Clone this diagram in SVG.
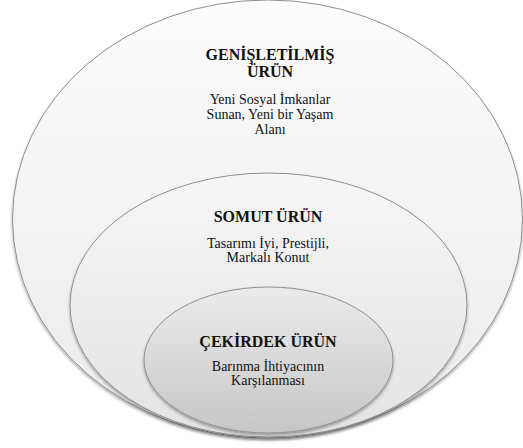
<svg xmlns="http://www.w3.org/2000/svg" width="523" height="448" viewBox="0 0 523 448">
<defs>
<linearGradient id="gOuter" x1="0" y1="0" x2="0" y2="1">
<stop offset="0" stop-color="#fbfbfb"/><stop offset="1" stop-color="#ebebeb"/>
</linearGradient>
<linearGradient id="gMid" x1="0" y1="0" x2="0" y2="1">
<stop offset="0" stop-color="#f6f6f6"/><stop offset="1" stop-color="#e3e3e3"/>
</linearGradient>
<linearGradient id="gInner" x1="0" y1="0" x2="0" y2="1">
<stop offset="0" stop-color="#ebebeb"/><stop offset="1" stop-color="#c6c6c6"/>
</linearGradient>
<filter id="sh" x="-10%" y="-10%" width="120%" height="125%">
<feGaussianBlur in="SourceAlpha" stdDeviation="1.5"/>
<feOffset dx="0" dy="2" result="b"/>
<feComponentTransfer><feFuncA type="linear" slope="0.35"/></feComponentTransfer>
<feMerge><feMergeNode/><feMergeNode in="SourceGraphic"/></feMerge>
</filter>
</defs>
<style>
.ring{stroke:#8f8f8f;stroke-width:1;filter:url(#sh)}
text{font-family:'Liberation Serif','Times New Roman',Times,serif;fill:#111;text-anchor:middle}
.h{font-weight:bold;font-size:16px}
.b{font-size:14px}
</style>
<rect width="523" height="448" fill="#ffffff"/>
<g id="outer">
<ellipse class="ring" cx="267.5" cy="219" rx="255" ry="219" fill="url(#gOuter)"/>
<text class="h" font-family="Liberation Serif" x="270" y="60">GENİŞLETİLMİŞ</text>
<text class="h" font-family="Liberation Serif" x="270" y="77">ÜRÜN</text>
<text class="b" font-family="Liberation Serif" x="270" y="104">Yeni Sosyal İmkanlar</text>
<text class="b" font-family="Liberation Serif" x="270" y="119">Sunan, Yeni bir Yaşam</text>
<text class="b" font-family="Liberation Serif" x="270" y="134">Alanı</text>
</g>
<g id="middle">
<ellipse class="ring" cx="268.5" cy="305" rx="198.5" ry="132" fill="url(#gMid)"/>
<text class="h" font-family="Liberation Serif" x="268" y="222">SOMUT ÜRÜN</text>
<text class="b" font-family="Liberation Serif" x="268" y="248">Tasarımı İyi, Prestijli,</text>
<text class="b" font-family="Liberation Serif" x="268" y="262">Markalı Konut</text>
</g>
<g id="inner">
<ellipse class="ring" cx="268.5" cy="360" rx="124.5" ry="73" fill="url(#gInner)"/>
<text class="h" font-family="Liberation Serif" x="268" y="347">ÇEKİRDEK ÜRÜN</text>
<text class="b" font-family="Liberation Serif" x="268" y="371">Barınma İhtiyacının</text>
<text class="b" font-family="Liberation Serif" x="268" y="385">Karşılanması</text>
</g>
<g id="connectors"/>
</svg>
